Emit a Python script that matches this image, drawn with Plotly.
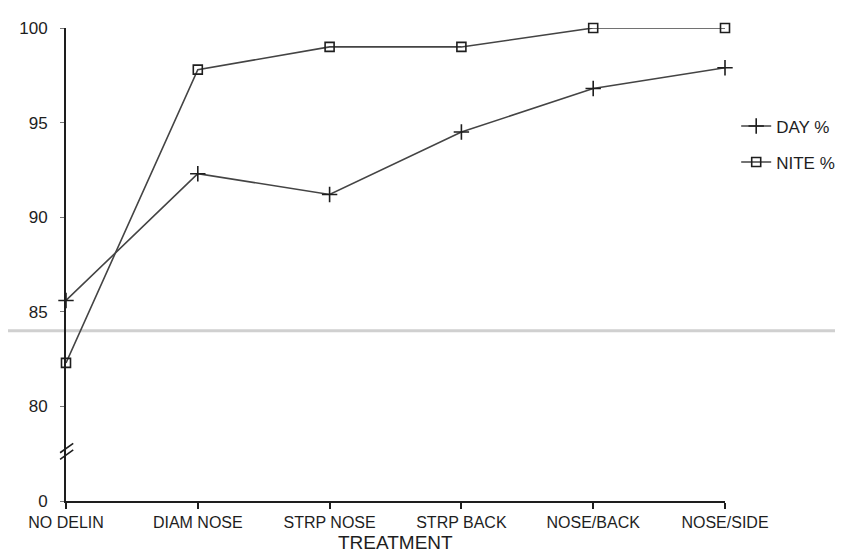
import plotly.graph_objects as go

treatments = ["NO DELIN", "DIAM NOSE", "STRP NOSE", "STRP BACK", "NOSE/BACK", "NOSE/SIDE"]
day_pct = [85.6, 92.3, 91.2, 94.5, 96.8, 97.9]
nite_pct = [82.3, 97.8, 99.0, 99.0, 100.0, 100.0]
y_tick_vals = [75, 80, 85, 90, 95, 100]
y_tick_text = ["0", "80", "85", "90", "95", "100"]

FONT = "Liberation Sans"
INK = "#1e1e1e"
LINE = "#444444"

L, R, T, B = 58, 126, 20, 61
W, H = 843, 554
plot_h = H - T - B

fig = go.Figure()
fig.add_trace(go.Scatter(
    x=treatments, y=day_pct, name="DAY %", mode="lines+markers",
    legendgroup="day", cliponaxis=False,
    line=dict(color=LINE, width=1.6),
    marker=dict(symbol="cross-thin", size=11, line=dict(color=INK, width=1.6), color=INK),
))
fig.add_trace(go.Scatter(
    x=treatments, y=nite_pct, name="NITE %", mode="lines+markers",
    legendgroup="nite", cliponaxis=False,
    line=dict(color=LINE, width=1.6),
    marker=dict(symbol="square-open", size=9, line=dict(color=INK, width=1.6), color=INK),
))

# axis break marks on the y axis
for y0 in (77.2, 77.55):
    fig.add_shape(type="line", xref="paper", yref="y",
                  x0=-0.009, x1=0.011, y0=y0, y1=y0 + 0.5,
                  line=dict(color=INK, width=1.6))

# faint scan line across the page
fig.add_shape(type="line", xref="paper", yref="y", layer="below",
              x0=-0.1, x1=1.2, y0=84.0, y1=84.0,
              line=dict(color="rgba(170,170,170,0.55)", width=3))

# x axis title
fig.add_annotation(text="TREATMENT", xref="paper", yref="paper",
                   x=0.5, y=-(534 - (H - B)) / plot_h, xanchor="center", yanchor="middle",
                   showarrow=False, font=dict(size=19, color=INK, family=FONT))

fig.update_layout(
    width=W, height=H,
    margin=dict(l=L, r=R, t=T, b=B, autoexpand=False),
    paper_bgcolor="white", plot_bgcolor="white",
    font=dict(family=FONT, size=17, color=INK),
    showlegend=True,
    legend=dict(x=1.017, xanchor="left", y=0.83, yanchor="top",
                tracegroupgap=11, traceorder="grouped",
                bgcolor="rgba(0,0,0,0)", font=dict(size=17)),
    xaxis=dict(
        type="category", range=[0, 5], showgrid=False, zeroline=False,
        showline=True, linecolor=INK, linewidth=2,
        ticks="outside", ticklen=6, tickwidth=2, tickcolor=INK,
        ticklabelstandoff=0, tickfont=dict(size=16),
        automargin=False,
    ),
    yaxis=dict(
        range=[75, 100], showgrid=False, zeroline=False,
        showline=True, linecolor=INK, linewidth=2,
        tickvals=y_tick_vals, ticktext=y_tick_text,
        ticks="outside", ticklen=4, tickwidth=1, tickcolor="#777777",
        ticklabelstandoff=9,
        automargin=False,
    ),
)

fig.write_html("out.html")
